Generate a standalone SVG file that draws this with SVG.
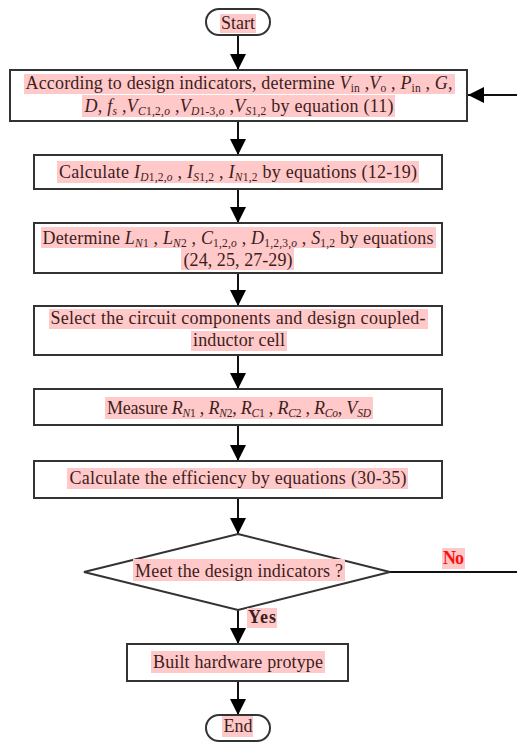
<svg xmlns="http://www.w3.org/2000/svg" width="517" height="742" viewBox="0 0 517 742">
<defs>
<style>
.box{fill:#fff;stroke:#333;stroke-width:2}
.hl{fill:#ffc9c9}
.t{font-family:'Liberation Serif','DejaVu Serif',serif;font-size:18px;fill:#3d1d1d;text-anchor:middle}
.i{font-style:italic}
.s{font-size:11.5px}
.si{font-size:11.5px;font-style:italic}
.b{font-weight:bold}
.con{fill:none;stroke:#111;stroke-width:2}
</style>
<marker id="ah" markerUnits="userSpaceOnUse" markerWidth="16" markerHeight="16" viewBox="0 0 16 16" refX="16" refY="8" orient="auto">
<path d="M0,0 L16,8 L0,16 Z" fill="#000"/>
</marker>
</defs>
<rect width="517" height="742" fill="#fff"/>

<g id="connectors">
<line class="con" x1="238" y1="35" x2="238" y2="70" marker-end="url(#ah)"/>
<line class="con" x1="238" y1="121" x2="238" y2="155" marker-end="url(#ah)"/>
<line class="con" x1="238" y1="189" x2="238" y2="223" marker-end="url(#ah)"/>
<line class="con" x1="238" y1="273" x2="238" y2="306" marker-end="url(#ah)"/>
<line class="con" x1="238" y1="355" x2="238" y2="389" marker-end="url(#ah)"/>
<line class="con" x1="238" y1="425" x2="238" y2="461" marker-end="url(#ah)"/>
<line class="con" x1="238" y1="498" x2="238" y2="534" marker-end="url(#ah)"/>
<line class="con" x1="238" y1="610" x2="238" y2="644" marker-end="url(#ah)"/>
<line class="con" x1="238" y1="681" x2="238" y2="715" marker-end="url(#ah)"/>
<path class="con" d="M390,572 H520 V95 H468" marker-end="url(#ah)"/>
</g>

<g id="start">
<rect class="box" x="206" y="9" width="64" height="26" rx="13"/>
<rect class="hl" x="220" y="14" width="36" height="19"/>
<text class="t" x="238" y="29" font-family="Liberation Serif, serif" textLength="34" lengthAdjust="spacing">Start</text>
</g>

<g id="step1">
<rect class="box" x="10" y="70" width="457" height="51"/>
<rect class="hl" x="24" y="74" width="431" height="20"/>
<rect class="hl" x="82" y="95" width="313" height="22"/>
<text class="t" x="239" y="89" font-family="Liberation Serif, serif" textLength="427" lengthAdjust="spacing">According to design indicators, determine <tspan class="i">V</tspan><tspan class="s" dy="3">in</tspan><tspan dy="-3"> ,</tspan><tspan class="i">V</tspan><tspan class="s" dy="3">o</tspan><tspan dy="-3"> , </tspan><tspan class="i">P</tspan><tspan class="s" dy="3">in</tspan><tspan dy="-3"> , </tspan><tspan class="i">G</tspan>,</text>
<text class="t" x="239" y="112" font-family="Liberation Serif, serif" textLength="309" lengthAdjust="spacing"><tspan class="i">D</tspan>, <tspan class="i">f</tspan><tspan class="si" dy="3">s</tspan><tspan dy="-3"> ,</tspan><tspan class="i">V</tspan><tspan class="si" dy="3">C</tspan><tspan class="s">1,2,</tspan><tspan class="si">o</tspan><tspan dy="-3"> ,</tspan><tspan class="i">V</tspan><tspan class="si" dy="3">D</tspan><tspan class="s">1-3,</tspan><tspan class="si">o</tspan><tspan dy="-3"> ,</tspan><tspan class="i">V</tspan><tspan class="si" dy="3">S</tspan><tspan class="s">1,2</tspan><tspan dy="-3">  by equation (11)</tspan></text>
</g>

<g id="step2">
<rect class="box" x="34" y="155" width="408" height="34"/>
<rect class="hl" x="57" y="161" width="362" height="22"/>
<text class="t" x="238" y="178" font-family="Liberation Serif, serif" textLength="358" lengthAdjust="spacing">Calculate <tspan class="i">I</tspan><tspan class="si" dy="3">D</tspan><tspan class="s">1,2,</tspan><tspan class="si">o</tspan><tspan dy="-3"> , </tspan><tspan class="i">I</tspan><tspan class="si" dy="3">S</tspan><tspan class="s">1,2</tspan><tspan dy="-3"> , </tspan><tspan class="i">I</tspan><tspan class="si" dy="3">N</tspan><tspan class="s">1,2</tspan><tspan dy="-3">  by equations (12-19)</tspan></text>
</g>

<g id="step3">
<rect class="box" x="34" y="223" width="408" height="50"/>
<rect class="hl" x="41" y="227" width="395" height="21"/>
<rect class="hl" x="181" y="248" width="113" height="22"/>
<text class="t" x="238" y="244" font-family="Liberation Serif, serif" textLength="391" lengthAdjust="spacing">Determine <tspan class="i">L</tspan><tspan class="si" dy="3">N</tspan><tspan class="s">1</tspan><tspan dy="-3"> , </tspan><tspan class="i">L</tspan><tspan class="si" dy="3">N</tspan><tspan class="s">2</tspan><tspan dy="-3"> , </tspan><tspan class="i">C</tspan><tspan class="s" dy="3">1,2,</tspan><tspan class="si">o</tspan><tspan dy="-3"> , </tspan><tspan class="i">D</tspan><tspan class="s" dy="3">1,2,3,</tspan><tspan class="si">o</tspan><tspan dy="-3"> , </tspan><tspan class="i">S</tspan><tspan class="s" dy="3">1,2</tspan><tspan dy="-3"> by equations</tspan></text>
<text class="t" x="238" y="266" font-family="Liberation Serif, serif" textLength="109" lengthAdjust="spacing">(24, 25, 27-29)</text>
</g>

<g id="step4">
<rect class="box" x="34" y="306" width="408" height="49"/>
<rect class="hl" x="49" y="309" width="379" height="20"/>
<rect class="hl" x="191" y="331" width="96" height="20"/>
<text class="t" x="238" y="324" font-family="Liberation Serif, serif" textLength="375" lengthAdjust="spacing">Select the circuit components and design coupled-</text>
<text class="t" x="239" y="346" font-family="Liberation Serif, serif" textLength="92" lengthAdjust="spacing">inductor cell</text>
</g>

<g id="step5">
<rect class="box" x="34" y="389" width="408" height="36"/>
<rect class="hl" x="105" y="397" width="268" height="22"/>
<text class="t" x="239" y="414" font-family="Liberation Serif, serif" textLength="264" lengthAdjust="spacing">Measure <tspan class="i">R</tspan><tspan class="si" dy="3">N</tspan><tspan class="s">1</tspan><tspan dy="-3"> , </tspan><tspan class="i">R</tspan><tspan class="si" dy="3">N</tspan><tspan class="s">2</tspan><tspan dy="-3">, </tspan><tspan class="i">R</tspan><tspan class="si" dy="3">C</tspan><tspan class="s">1</tspan><tspan dy="-3"> , </tspan><tspan class="i">R</tspan><tspan class="si" dy="3">C</tspan><tspan class="s">2</tspan><tspan dy="-3"> , </tspan><tspan class="i">R</tspan><tspan class="si" dy="3">Co</tspan><tspan dy="-3">, </tspan><tspan class="i">V</tspan><tspan class="si" dy="3">SD</tspan></text>
</g>

<g id="step6">
<rect class="box" x="34" y="461" width="408" height="37"/>
<rect class="hl" x="67" y="468" width="341" height="21"/>
<text class="t" x="238" y="484" font-family="Liberation Serif, serif" textLength="337" lengthAdjust="spacing">Calculate the efficiency by equations (30-35)</text>
</g>

<g id="decision">
<polygon class="box" points="238,534 390,572 238,610 84,572"/>
<rect class="hl" x="133" y="559" width="212" height="22"/>
<text class="t" x="239" y="577" font-family="Liberation Serif, serif" textLength="208" lengthAdjust="spacing">Meet the design indicators ?</text>
<rect class="hl" x="442" y="548" width="23" height="21"/>
<text class="t b" x="453.5" y="564" font-family="Liberation Serif, serif" style="fill:#ff1010" textLength="21" lengthAdjust="spacing">No</text>
<rect class="hl" x="247" y="608" width="30" height="20"/>
<text class="t b" x="262" y="623" font-family="Liberation Serif, serif" textLength="28" lengthAdjust="spacing">Yes</text>
</g>

<g id="step7">
<rect class="box" x="127" y="644" width="221" height="37"/>
<rect class="hl" x="151" y="651" width="174" height="22"/>
<text class="t" x="238" y="668" font-family="Liberation Serif, serif" textLength="170" lengthAdjust="spacing">Built hardware protype</text>
</g>

<g id="end">
<rect class="box" x="206" y="715" width="64" height="26" rx="13"/>
<rect class="hl" x="222" y="716" width="31" height="21"/>
<text class="t" x="238" y="732" font-family="Liberation Serif, serif" textLength="29" lengthAdjust="spacing">End</text>
</g>
</svg>
